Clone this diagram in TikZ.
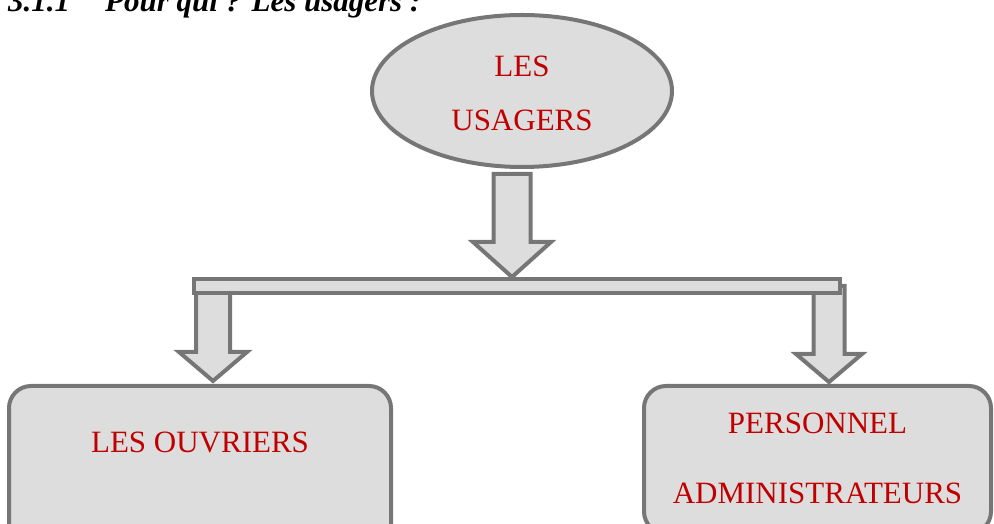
\documentclass[tikz,border=0pt]{standalone}
\usepackage{fontspec}
\setmainfont{Liberation Serif}
\usetikzlibrary{shapes.geometric, calc}

\definecolor{traitgris}{RGB}{118,118,118}
\definecolor{fondgris}{RGB}{221,221,221}
\definecolor{rougetexte}{RGB}{192,0,0}

% fleche pleine vers le bas : depart, pointe, demi-largeur tige, demi-largeur tete, longueur tete
\newcommand{\flechebloc}[5]{%
  \draw[bloc] let \p1=(#1), \p2=(#2) in
    (\x2-#3pt,\y1) -- (\x2+#3pt,\y1) -- (\x2+#3pt,\y2+#5pt) -- (\x2+#4pt,\y2+#5pt)
    -- (\x2,\y2) -- (\x2-#4pt,\y2+#5pt) -- (\x2-#3pt,\y2+#5pt) -- cycle;}

\begin{document}
\begin{tikzpicture}[x=1pt, y=1pt,
    usager/.style={ellipse, draw=traitgris, line width=4pt, fill=fondgris, text=rougetexte,
                   minimum width=300pt, minimum height=152pt, inner sep=0pt, align=center,
                   font=\fontsize{31}{54}\selectfont},
    groupe/.style={rectangle, draw=traitgris, line width=4pt, fill=fondgris, text=rougetexte,
                   rounded corners=22pt, inner sep=0pt, anchor=north, align=center,
                   font=\fontsize{31}{70}\selectfont},
    barre/.style={rectangle, draw=traitgris, line width=4pt, fill=fondgris,
                  minimum width=646pt, minimum height=14pt, inner sep=0pt},
    bloc/.style={draw=traitgris, line width=4pt, fill=fondgris},
    titre/.style={anchor=base west, inner sep=0pt,
                  font=\fontsize{31}{36}\selectfont\bfseries\itshape}
]
\useasboundingbox (0,0) rectangle (994,524);
\clip (0,0) rectangle (994,524);

\node[titre] (titre) at (8,512) {3.1.1\hspace*{35pt}Pour qui ? Les usagers :};
\node[usager, text height=80pt, text depth=0pt] (usagers) at (522,433) {LES\\USAGERS};
\node[groupe, minimum width=382pt, text height=66.5pt, text depth=120pt]
     (ouvriers) at (200,140) {LES OUVRIERS};
\node[groupe, minimum width=347pt, text height=117.5pt, text depth=30pt]
     (personnel) at (817.5,140) {PERSONNEL\\ADMINISTRATEURS};

\coordinate (haut)    at (512,350);
\coordinate (pointe)  at (512,247);
\coordinate (gauche)  at (213,238);
\coordinate (pointeg) at (213,143);
\coordinate (droite)  at (829,238);
\coordinate (pointed) at (829,142);

\flechebloc{gauche}{pointeg}{17}{34}{29}
\flechebloc{droite}{pointed}{15.5}{33}{28}
\node[barre] (barre) at (517,238) {};
\flechebloc{haut}{pointe}{18.5}{39}{35}
\end{tikzpicture}
\end{document}
